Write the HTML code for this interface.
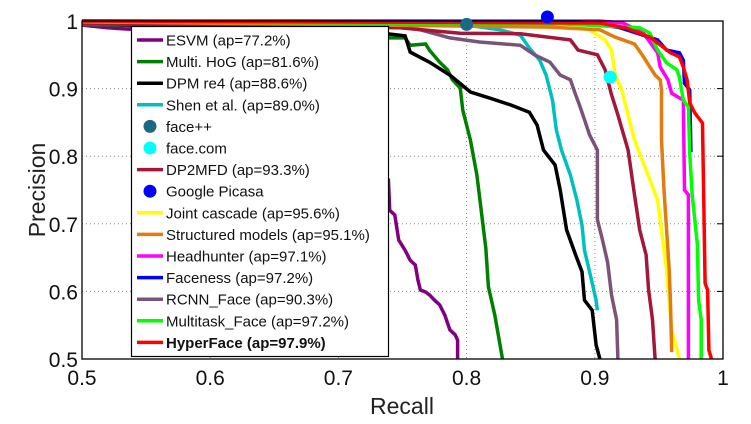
<!DOCTYPE html>
<html><head><meta charset="utf-8">
<style>
html,body{margin:0;padding:0;background:#fff;}
svg{display:block;font-family:"Liberation Sans",Arial,sans-serif;}
</style></head>
<body>
<svg id="chart" width="751" height="424" viewBox="0 0 751 424" xmlns="http://www.w3.org/2000/svg">
<defs><clipPath id="plotclip"><rect x="82" y="10" width="641" height="349"/></clipPath></defs>
<rect x="0" y="0" width="751" height="424" fill="#fff"/>
<g id="grid"></g>
<g id="series" clip-path="url(#plotclip)"></g>
<rect x="82" y="21" width="641" height="338" fill="none" stroke="#000" stroke-width="1.3"/>
<g id="ticks"></g>
<text x="402" y="414" font-size="23" text-anchor="middle" fill="#222">Recall</text>
<text transform="translate(45,190) rotate(-90)" font-size="23" text-anchor="middle" fill="#222">Precision</text>
<g id="markers"></g>
<g id="legend"></g>
</svg>
<script>
const xTicks=[0.5,0.6,0.7,0.8,0.9,1];
const yTicks=[0.5,0.6,0.7,0.8,0.9,1];
const xTickLabels=["0.5","0.6","0.7","0.8","0.9","1"];
const yTickLabels=["0.5","0.6","0.7","0.8","0.9","1"];

const esvmR=[0.5,0.52,0.56,0.739,0.740,0.744,0.747,0.752,0.756,0.760,0.762,0.764,0.768,0.771,0.775,0.779,0.783,0.787,0.791,0.793,0.793];
const esvmP=[0.994,0.990,0.985,0.765,0.720,0.713,0.676,0.661,0.646,0.639,0.617,0.602,0.599,0.595,0.587,0.580,0.565,0.543,0.536,0.528,0.5];
const hogR=[0.5,0.6,0.738,0.752,0.756,0.768,0.771,0.779,0.785,0.789,0.795,0.797,0.803,0.808,0.815,0.817,0.822,0.828];
const hogP=[0.995,0.99,0.975,0.975,0.964,0.966,0.957,0.939,0.928,0.913,0.901,0.868,0.824,0.772,0.664,0.607,0.565,0.5];
const dpmR=[0.5,0.6,0.738,0.752,0.756,0.771,0.787,0.803,0.818,0.834,0.849,0.855,0.860,0.869,0.873,0.878,0.885,0.890,0.892,0.898,0.901,0.904];
const dpmP=[0.996,0.99,0.981,0.978,0.954,0.939,0.920,0.895,0.886,0.876,0.865,0.846,0.809,0.787,0.750,0.691,0.654,0.629,0.587,0.572,0.521,0.5];
const shenR=[0.5,0.803,0.826,0.842,0.849,0.857,0.862,0.867,0.870,0.874,0.881,0.886,0.890,0.892,0.897,0.901,0.902];
const shenP=[0.997,0.993,0.987,0.979,0.960,0.942,0.920,0.883,0.839,0.809,0.772,0.735,0.698,0.661,0.620,0.587,0.572];
const rcnnR=[0.5,0.738,0.764,0.787,0.810,0.842,0.853,0.865,0.873,0.881,0.885,0.888,0.892,0.896,0.902,0.902,0.906,0.910,0.913,0.917,0.918];
const rcnnP=[0.995,0.993,0.987,0.975,0.969,0.964,0.950,0.939,0.920,0.913,0.891,0.876,0.854,0.831,0.809,0.706,0.676,0.643,0.595,0.558,0.5];
const dp2R=[0.5,0.748,0.795,0.842,0.881,0.887,0.902,0.908,0.913,0.918,0.926,0.931,0.935,0.940,0.942,0.945,0.947];
const dp2P=[0.996,0.990,0.982,0.981,0.972,0.957,0.950,0.928,0.891,0.861,0.809,0.743,0.691,0.654,0.602,0.558,0.5];
const jointR=[0.5,0.873,0.896,0.908,0.913,0.916,0.921,0.926,0.931,0.937,0.943,0.949,0.952,0.956,0.958,0.960,0.963,0.966];
const jointP=[0.999,0.994,0.987,0.972,0.957,0.920,0.898,0.861,0.824,0.794,0.765,0.735,0.691,0.632,0.587,0.543,0.521,0.5];
const structR=[0.5,0.865,0.904,0.916,0.931,0.937,0.942,0.947,0.951,0.952,0.952,0.954,0.956,0.958,0.959,0.960];
const structP=[0.999,0.991,0.987,0.976,0.966,0.950,0.935,0.920,0.913,0.898,0.824,0.750,0.691,0.632,0.587,0.510];
const headR=[0.5,0.904,0.922,0.938,0.949,0.951,0.957,0.960,0.969,0.970,0.973,0.973];
const headP=[1.0,1.0,0.997,0.982,0.953,0.932,0.913,0.893,0.883,0.750,0.743,0.5];
const facenessR=[0.5,0.888,0.920,0.949,0.956,0.966,0.969,0.970,0.974,0.975];
const facenessP=[1.0,0.999,0.990,0.972,0.957,0.953,0.942,0.908,0.898,0.806];
const multiR=[0.5,0.873,0.935,0.943,0.949,0.956,0.964,0.966,0.969,0.973,0.974,0.976,0.980,0.981,0.983,0.983];
const multiP=[0.999,0.996,0.990,0.982,0.957,0.938,0.928,0.917,0.883,0.873,0.805,0.743,0.669,0.587,0.558,0.5];
const hyperR=[0.5,0.904,0.924,0.943,0.953,0.959,0.966,0.969,0.972,0.974,0.978,0.984,0.986,0.988,0.989,0.991];
const hyperP=[1.0,0.997,0.990,0.976,0.962,0.953,0.947,0.932,0.913,0.879,0.864,0.849,0.612,0.602,0.513,0.5];

const faceppPt=[0.800,0.995];
const faceComPt=[0.912,0.917];
const picasaPt=[0.863,1.006];

const NS="http://www.w3.org/2000/svg";
const X0=82,X1=723,Y0=359,Y1=21;
function sx(r){return X0+(r-0.5)/0.5*(X1-X0);}
function sy(p){return Y0-(p-0.5)/0.5*(Y0-Y1);}
function mk(tag,attrs,parent){const e=document.createElementNS(NS,tag);for(const k in attrs)e.setAttribute(k,attrs[k]);parent.appendChild(e);return e;}

const grid=document.getElementById('grid');
const ticks=document.getElementById('ticks');
xTicks.forEach((t,i)=>{
  const x=sx(t);
  if(t>0.5&&t<1){const g=mk('line',{x1:x,y1:Y1,x2:x,y2:Y0,stroke:'#888','stroke-width':1,'stroke-dasharray':'1,3'},grid);
  
  }
  const tl=mk('text',{x:x,y:385,'font-size':21,'text-anchor':'middle',fill:'#111'},ticks);
  tl.textContent=xTickLabels[i];
  
  
});
yTicks.forEach((t,i)=>{
  const y=sy(t);
  if(t>0.5&&t<1){const g=mk('line',{x1:X0,y1:y,x2:X1,y2:y,stroke:'#888','stroke-width':1,'stroke-dasharray':'1,3'},grid);
  
  
  mk('line',{x1:X1-6,y1:y,x2:X1,y2:y,stroke:'#000','stroke-width':1},ticks);}
  const tl=mk('text',{x:78,y:y+8,'font-size':21,'text-anchor':'end',fill:'#111'},ticks);
  tl.textContent=yTickLabels[i];
  
  
});

const seriesG=document.getElementById('series');
const seriesList=[
 ['esvm',esvmR,esvmP,'#800080'],
 ['multi-hog',hogR,hogP,'#008000'],
 ['dpm-re4',dpmR,dpmP,'#000000'],
 ['shen-et-al',shenR,shenP,'#00bfbf'],
 ['rcnn-face',rcnnR,rcnnP,'#7b5378'],
 ['dp2mfd',dp2R,dp2P,'#a3173a'],
 ['joint-cascade',jointR,jointP,'#ffff00'],
 ['structured-models',structR,structP,'#e07c10'],
 ['headhunter',headR,headP,'#ff00ff'],
 ['faceness',facenessR,facenessP,'#0000ff'],
 ['multitask-face',multiR,multiP,'#00ff00'],
 ['hyperface',hyperR,hyperP,'#ff0000']
];
seriesList.forEach(s=>{
  const pts=s[1].map((r,i)=>sx(r).toFixed(1)+','+sy(s[2][i]).toFixed(1)).join(' ');
  const pl=mk('polyline',{points:pts,fill:'none',stroke:s[3],'stroke-width':3.5,'stroke-linejoin':'miter'},seriesG);
  
  
});

const markers=document.getElementById('markers');
[['face-plus-plus-marker',faceppPt,'#1b6a84'],['face-com-marker',faceComPt,'#00ffff'],['google-picasa-marker',picasaPt,'#0000ff']].forEach(m=>{
  const c=mk('circle',{cx:sx(m[1][0]),cy:sy(m[1][1]),r:6.5,fill:m[2]},markers);
  
  
});

const legendLabels=["ESVM (ap=77.2%)","Multi. HoG (ap=81.6%)","DPM re4 (ap=88.6%)","Shen et al. (ap=89.0%)","face++","face.com","DP2MFD (ap=93.3%)","Google Picasa","Joint cascade (ap=95.6%)","Structured models (ap=95.1%)","Headhunter (ap=97.1%)","Faceness (ap=97.2%)","RCNN_Face (ap=90.3%)","Multitask_Face (ap=97.2%)","HyperFace (ap=97.9%)"];
const legendColors=['#800080','#008000','#000000','#00bfbf','#1b6a84','#00ffff','#a3173a','#0000ff','#ffff00','#e07c10','#ff00ff','#0000ff','#7b5378','#00ff00','#ff0000'];
const legendKinds=['l','l','l','l','m','m','l','m','l','l','l','l','l','l','l'];
const legend=document.getElementById('legend');
const lb=mk('rect',{x:131.5,y:26.5,width:257,height:330,fill:'#fff',stroke:'#000','stroke-width':1.2},legend);


legendLabels.forEach((lab,i)=>{
  const y=40+21.6*i;
  const g=mk('g',{},legend);
  
  
  if(legendKinds[i]==='l') mk('line',{x1:137,y1:y,x2:163,y2:y,stroke:legendColors[i],'stroke-width':3.5},g);
  else mk('circle',{cx:150,cy:y,r:6.5,fill:legendColors[i]},g);
  const t=mk('text',{x:166,y:y+5.5,'font-size':15,fill:'#111'},g);
  if(i===14)t.setAttribute('font-weight','bold');
  t.textContent=lab;
});
</script>
</body></html>
